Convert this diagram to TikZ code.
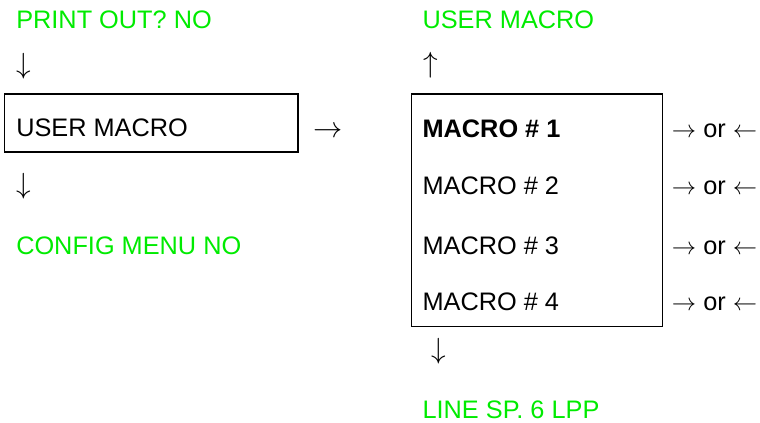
\documentclass[tikz,border=0pt]{standalone}
\usepackage{fontspec}
\setmainfont{Liberation Sans}
\definecolor{menugreen}{RGB}{0,235,0}
\tikzset{
  menutext/.style={font=\fontsize{18}{21}\selectfont, inner sep=0pt, anchor=base west},
  greentext/.style={menutext, text=menugreen},
  keyarrow/.style={font=\fontsize{21}{24}\selectfont, inner sep=0pt},
}
\begin{document}
\begin{tikzpicture}[x=0.025cm,y=-0.025cm]
\useasboundingbox (0,0) rectangle (760,422);
% left column
\node[greentext] (printout) at (16,28.3) {PRINT OUT? NO};
\node[keyarrow] (downa) at (24,65.8) {$\downarrow$};
\draw[line width=0.9pt] (4.7,94) rectangle (298,152);
\node[menutext] (usermacro) at (16,136) {USER MACRO};
\node[keyarrow,font=\fontsize{22}{24}\selectfont] (enter) at (327.8,131.7) {$\rightarrow$};
\node[keyarrow] (downb) at (24,185.9) {$\downarrow$};
\node[greentext] (config) at (16,254) {CONFIG MENU NO};
% right column
\node[greentext] (macrotitle) at (422.3,28.3) {USER MACRO};
\node[keyarrow] (upa) at (430.3,65.7) {$\uparrow$};
\draw[line width=0.9pt] (411.7,94) rectangle (662.7,326.7);
\node[menutext,font=\fontsize{18}{21}\selectfont\bfseries] (macro1) at (422.3,137.7) {MACRO \# 1};
\foreach \n/\y in {2/194.3,3/254.3,4/310}
  \node[menutext] (macro\n) at (422.3,\y) {MACRO \# \n};
\foreach \n/\y in {1/137.5,2/194.3,3/254.3,4/310}
  \node[menutext] (choice\n) at (671.7,\y) {$\rightarrow$ or $\leftarrow$};
\node[keyarrow] (downc) at (438.3,351.5) {$\downarrow$};
\node[greentext] (linesp) at (422.3,418.5) {LINE SP. 6 LPP};
\end{tikzpicture}
\end{document}
